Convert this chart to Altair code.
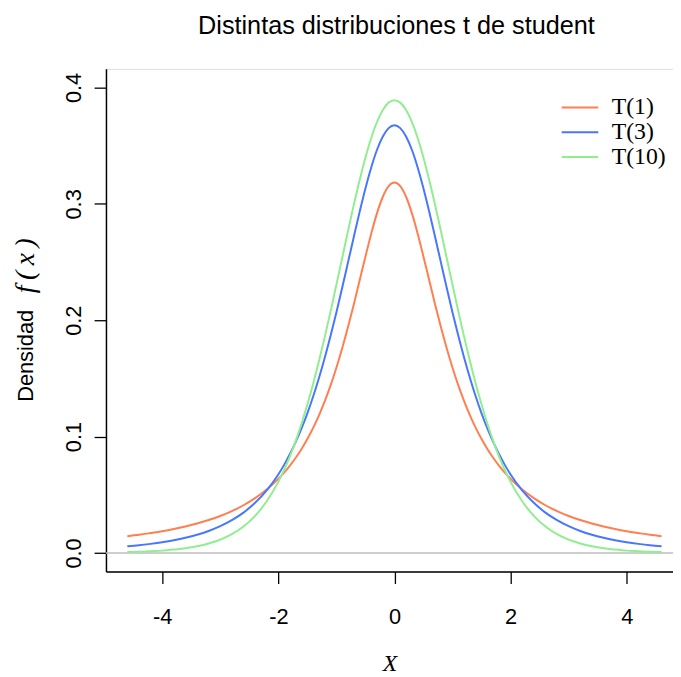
import altair as alt
import pandas as pd

# x grid (curves span -4.6 .. 4.6)
x_vals = [-4.6, -4.4, -4.2, -4.0, -3.8, -3.6, -3.4, -3.2, -3.0, -2.8, -2.6, -2.4,
          -2.2, -2.0, -1.9, -1.8, -1.7, -1.6, -1.5, -1.4, -1.3, -1.2, -1.1, -1.0,
          -0.9, -0.8, -0.7, -0.6, -0.5, -0.4, -0.3, -0.2, -0.1, 0.0,
          0.1, 0.2, 0.3, 0.4, 0.5, 0.6, 0.7, 0.8, 0.9, 1.0, 1.1, 1.2, 1.3, 1.4,
          1.5, 1.6, 1.7, 1.8, 1.9, 2.0, 2.2, 2.4, 2.6, 2.8,
          3.0, 3.2, 3.4, 3.6, 3.8, 4.0, 4.2, 4.4, 4.6]

t1_vals = [0.0144, 0.0156, 0.0171, 0.0187, 0.0206, 0.0228, 0.0253, 0.0283, 0.0318,
           0.0360, 0.0410, 0.0471, 0.0545, 0.0637, 0.0690, 0.0751, 0.0818, 0.0894,
           0.0979, 0.1075, 0.1183, 0.1305, 0.1440, 0.1592, 0.1759, 0.1941, 0.2136,
           0.2341, 0.2546, 0.2744, 0.2920, 0.3061, 0.3152, 0.3183,
           0.3152, 0.3061, 0.2920, 0.2744, 0.2546, 0.2341, 0.2136, 0.1941, 0.1759,
           0.1592, 0.1440, 0.1305, 0.1183, 0.1075, 0.0979, 0.0894, 0.0818, 0.0751,
           0.0690, 0.0637, 0.0545, 0.0471, 0.0410, 0.0360, 0.0318, 0.0283, 0.0253,
           0.0228, 0.0206, 0.0187, 0.0171, 0.0156, 0.0144]

t3_vals = [0.0057, 0.0066, 0.0078, 0.0092, 0.0109, 0.0130, 0.0156, 0.0189, 0.0230,
           0.0282, 0.0347, 0.0431, 0.0538, 0.0675, 0.0757, 0.0850, 0.0954, 0.1070,
           0.1200, 0.1345, 0.1504, 0.1678, 0.1866, 0.2067, 0.2279, 0.2497, 0.2716,
           0.2930, 0.3132, 0.3313, 0.3465, 0.3579, 0.3651, 0.3676,
           0.3651, 0.3579, 0.3465, 0.3313, 0.3132, 0.2930, 0.2716, 0.2497, 0.2279,
           0.2067, 0.1866, 0.1678, 0.1504, 0.1345, 0.1200, 0.1070, 0.0954, 0.0850,
           0.0757, 0.0675, 0.0538, 0.0431, 0.0347, 0.0282, 0.0230, 0.0189, 0.0156,
           0.0130, 0.0109, 0.0092, 0.0078, 0.0066, 0.0057]

t10_vals = [0.0008, 0.0010, 0.0015, 0.0020, 0.0029, 0.0040, 0.0057, 0.0081, 0.0114,
            0.0161, 0.0227, 0.0319, 0.0444, 0.0611, 0.0714, 0.0831, 0.0963, 0.1111,
            0.1275, 0.1454, 0.1649, 0.1857, 0.2076, 0.2304, 0.2535, 0.2766, 0.2991,
            0.3203, 0.3397, 0.3566, 0.3704, 0.3807, 0.3870, 0.3891,
            0.3870, 0.3807, 0.3704, 0.3566, 0.3397, 0.3203, 0.2991, 0.2766, 0.2535,
            0.2304, 0.2076, 0.1857, 0.1649, 0.1454, 0.1275, 0.1111, 0.0963, 0.0831,
            0.0714, 0.0611, 0.0444, 0.0319, 0.0227, 0.0161, 0.0114, 0.0081, 0.0057,
            0.0040, 0.0029, 0.0020, 0.0015, 0.0010, 0.0008]

series_names = ["T(1)", "T(3)", "T(10)"]
series_colors = ["#FF7F50", "#4876FF", "#90EE90"]
x_ticks = [-4, -2, 0, 2, 4]
y_ticks = [0.0, 0.1, 0.2, 0.3, 0.4]
zero_line = [0.0]

rows = []
for name, vals in zip(series_names, [t1_vals, t3_vals, t10_vals]):
    for xv, yv in zip(x_vals, vals):
        rows.append({"x": xv, "density": yv, "serie": name})
df = pd.DataFrame(rows)

SANS = "Liberation Sans"
SERIF = "Liberation Serif"

xscale = alt.Scale(domain=[-4.968, 4.797], nice=False, zero=False)
yscale = alt.Scale(domain=[-0.016, 0.416], nice=False, zero=False)

x_axis = alt.Axis(values=x_ticks, title="X", titleFont=SERIF, titleFontStyle="italic",
                  titleFontWeight="normal", titleFontSize=24, titleColor="black",
                  titlePadding=25, labelFont=SANS, labelFontSize=22, labelColor="black",
                  labelPadding=23, tickSize=12, tickColor="black", domainColor="black",
                  tickWidth=1.3, domainWidth=1.5, grid=False,
                  labelExpr="toString(datum.value)", labelFlush=False)
y_axis = alt.Axis(values=y_ticks, title=None, labelFont=SANS, labelFontSize=22,
                  labelColor="black", labelAngle=270, labelAlign="center",
                  labelBaseline="bottom", labelPadding=9, tickSize=12, tickColor="black",
                  tickWidth=1.3, domainColor="black", domainWidth=1.5, grid=False,
                  format=".1f", labelFlush=False)

base = alt.Chart(df)

zero = alt.Chart(pd.DataFrame({"y0": zero_line})).mark_rule(
    color="#BEBEBE", strokeWidth=1.5
).encode(y=alt.Y("y0:Q", scale=yscale, axis=y_axis))

lines = base.mark_line(strokeWidth=2, clip=True, interpolate="monotone").encode(
    x=alt.X("x:Q", scale=xscale, axis=x_axis),
    y=alt.Y("density:Q", scale=yscale, axis=y_axis),
    color=alt.Color("serie:N",
                    scale=alt.Scale(domain=series_names, range=series_colors),
                    legend=alt.Legend(title=None, orient="none", legendX=467, legendY=27,
                                      symbolType="M-2,0H2", symbolStrokeWidth=2,
                                      symbolSize=342, labelFont=SERIF, labelFontSize=24,
                                      labelColor="black", labelOffset=20, rowPadding=1,
                                      padding=0)),
)

ylab_word = alt.Chart(pd.DataFrame({"t": ["Densidad"]})).mark_text(
    font=SANS, fontSize=22, angle=270, align="center", baseline="middle", color="black"
).encode(text="t:N", x=alt.value(-81), y=alt.value(290))

ylab_math = alt.Chart(pd.DataFrame({"t": ["f\u2009(\u2009x\u2009)"]})).mark_text(
    font=SERIF, fontSize=28, fontStyle="italic", angle=270, align="center",
    baseline="middle", color="black"
).encode(text="t:N", x=alt.value(-81), y=alt.value(199))

chart = alt.layer(zero, lines, ylab_word, ylab_math).properties(
    width=573,
    height=508,
    title=alt.TitleParams("Distintas distribuciones t de student", font=SANS, fontSize=25.5,
                          fontWeight="normal", color="black", anchor="middle", dx=7,
                          offset=30),
    autosize=alt.AutoSizeParams(type="none"),
    padding={"left": 99, "top": 58, "right": 0, "bottom": 102},
).configure_view(stroke=None).configure(background="white")

chart.save("out.html", embed_options={"renderer": "svg", "actions": False})
